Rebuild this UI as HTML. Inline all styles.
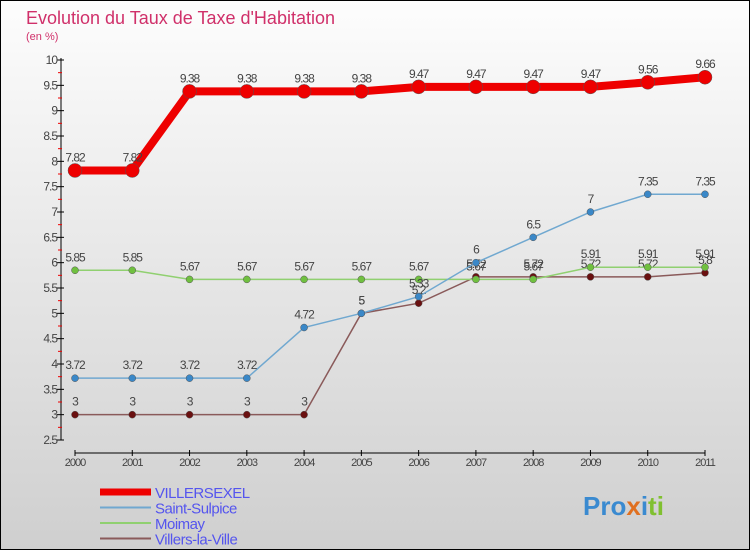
<!DOCTYPE html>
<html><head><meta charset="utf-8"><style>
body{margin:0;width:750px;height:550px;overflow:hidden;font-family:"Liberation Sans",sans-serif}
</style></head><body>
<svg width="750" height="550" xmlns="http://www.w3.org/2000/svg">
<defs><linearGradient id="bg" x1="0" y1="0" x2="0" y2="1"><stop offset="0" stop-color="#fdfdfd"/><stop offset="1" stop-color="#cfcfcf"/></linearGradient></defs>
<rect x="0" y="0" width="750" height="550" fill="url(#bg)" stroke="#000" stroke-width="2"/>
<text x="26" y="24" font-size="18" fill="#d0306a">Evolution du Taux de Taxe d'Habitation</text>
<text x="26" y="40" font-size="11" fill="#d0306a">(en %)</text>
<g id="axes"></g><g id="series"></g><g id="legend"></g>
<text x="583" y="515" font-size="26" font-weight="bold" fill="#3a8ad0">Pro<tspan fill="#e07020">x</tspan><tspan fill="#3a8ad0">i</tspan><tspan fill="#80c030">ti</tspan></text>
</svg>
<script>
const years=[2000,2001,2002,2003,2004,2005,2006,2007,2008,2009,2010,2011];
const villersexel=[7.82,7.82,9.38,9.38,9.38,9.38,9.47,9.47,9.47,9.47,9.56,9.66];
const saintSulpice=[3.72,3.72,3.72,3.72,4.72,5,5.33,6,6.5,7,7.35,7.35];
const moimay=[5.85,5.85,5.67,5.67,5.67,5.67,5.67,5.67,5.67,5.91,5.91,5.91];
const villersLaVille=[3,3,3,3,3,5,5.2,5.72,5.72,5.72,5.72,5.8];
const yTicks=[2.5,3,3.5,4,4.5,5,5.5,6,6.5,7,7.5,8,8.5,9,9.5,10];
const NS="http://www.w3.org/2000/svg";
const xs=i=>75+i*(630/11);
const ys=v=>440-(v-2.5)*(380/7.5);
function mk(p,t,a){const e=document.createElementNS(NS,t);for(const k in a)e.setAttribute(k,a[k]);p.appendChild(e);return e;}
const ax=document.getElementById('axes');
let l=mk(ax,'line',{x1:61,y1:58,x2:61,y2:440,stroke:'#000'});


l=mk(ax,'line',{x1:75,y1:453,x2:705,y2:453,stroke:'#000'});


yTicks.forEach(v=>{const y=ys(v);
 mk(ax,'line',{x1:57,y1:y,x2:64,y2:y,stroke:'#000'});
 if(v<10){const m=ys(v+0.25);mk(ax,'line',{x1:58,y1:m,x2:62,y2:m,stroke:'#e00'});}
 const t=mk(ax,'text',{x:57,y:y+4,'font-size':12,fill:'#444','text-anchor':'end','letter-spacing':'-1'});t.textContent=v;
 
 });
years.forEach((yr,i)=>{const x=xs(i);
 mk(ax,'line',{x1:x,y1:450,x2:x,y2:456,stroke:'#000'});
 const t=mk(ax,'text',{x:x,y:466,'font-size':11,fill:'#444','text-anchor':'middle','letter-spacing':'-1'});t.textContent=yr;
 
 });
const se=document.getElementById('series');
const defs=[[villersLaVille,'#8a5a5a','#6a1010',1.5,3.5,'villers-la-ville'],[moimay,'#90d070','#70c040',1.5,3.5,'moimay'],[saintSulpice,'#70a8d0','#3a88c8',1.5,3.5,'saint-sulpice'],[villersexel,'#e00','#e00',8,7,'villersexel']];
defs.forEach(([d,lc,pc,w,r,n])=>{
 const g=mk(se,'g',{});
 
 
 const pl=mk(g,'polyline',{points:d.map((v,i)=>xs(i)+','+ys(v)).join(' '),fill:'none',stroke:lc,'stroke-width':w});
 
 
 d.forEach((v,i)=>{const c=mk(g,'circle',{cx:xs(i),cy:ys(v),r:r,fill:pc,stroke:'#555','stroke-width':0.5});
  
  
  const t=mk(g,'text',{x:xs(i),y:ys(v)-9,'font-size':12,fill:'#444','text-anchor':'middle','letter-spacing':'-1'});t.textContent=v;
  
  });
});
const lg=document.getElementById('legend');
[['VILLERSEXEL','#e00',7],['Saint-Sulpice','#70a8d0',2],['Moimay','#90d070',2],['Villers-la-Ville','#8a5a5a',2]].forEach(([n,c,w],i)=>{
 const y=492+i*15.5;
 const g=mk(lg,'g',{});
 
 
 mk(g,'line',{x1:100,y1:y,x2:151,y2:y,stroke:c,'stroke-width':w});
 const t=mk(g,'text',{x:155,y:y+6,'font-size':15,fill:'#5555ee','letter-spacing':'-0.5'});t.textContent=n;
});
</script>
</body></html>
